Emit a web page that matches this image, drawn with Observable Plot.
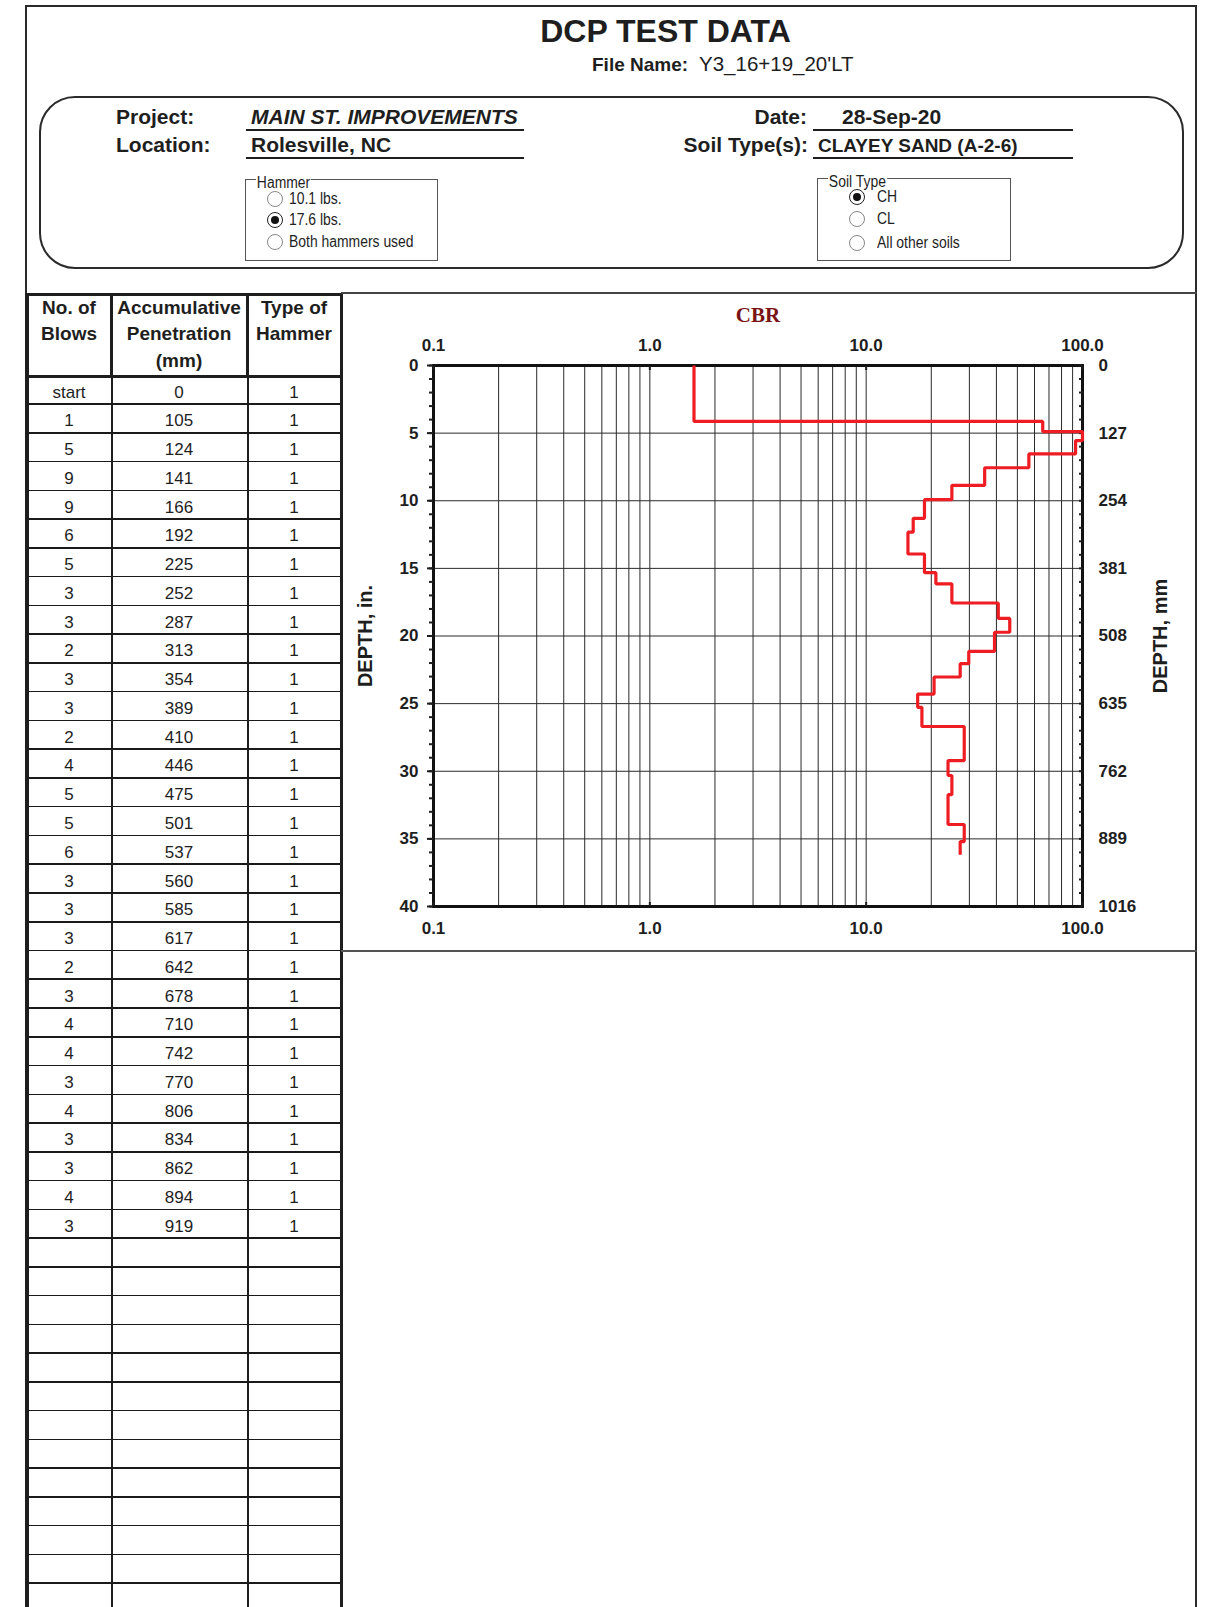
<!DOCTYPE html>
<html><head><meta charset="utf-8">
<script src="https://cdn.jsdelivr.net/npm/d3@7"></script>
<script src="https://cdn.jsdelivr.net/npm/@observablehq/plot@0.6"></script>
<style>
body{margin:0;background:#fff;}
#page{position:relative;width:1205px;height:1607px;overflow:hidden;background:#fff;font-family:"Liberation Sans",Arial,Helvetica,sans-serif;color:#1e1e1e;}
.a{position:absolute;white-space:nowrap;}
#chart{position:absolute;left:341px;top:292px;}
</style></head><body><div id="page"><div id="chart"></div></div>
<script>
// ---------- data ----------
const blows = ["start",1,5,9,9,6,5,3,3,2,3,3,2,4,5,5,6,3,3,3,2,3,4,4,3,4,3,3,4,3];
const penetrationMm = [0,105,124,141,166,192,225,252,287,313,354,389,410,446,475,501,537,560,585,617,642,678,710,742,770,806,834,862,894,919];
const hammerType = [1,1,1,1,1,1,1,1,1,1,1,1,1,1,1,1,1,1,1,1,1,1,1,1,1,1,1,1,1,1];
// CBR of each layer (between consecutive penetration readings)
const cbrValues = [1.6,65.5,100,92.9,56.5,35.3,24.9,18.6,16.5,15.6,18.6,21.0,24.9,40.8,46.1,39.2,29.8,27.2,20.6,17.3,18.1,28.4,28.4,23.9,24.9,23.9,23.9,28.4,27.2];
const xGridValues = [0.1,0.2,0.3,0.4,0.5,0.6,0.7,0.8,0.9,1,2,3,4,5,6,7,8,9,10,20,30,40,50,60,70,80,90,100];
const xTickValues = [0.1,1,10,100];
const xTickLabels = ["0.1","1.0","10.0","100.0"];
const depthMmTicks = [0,127,254,381,508,635,762,889,1016];
const depthInLabels = ["0","5","10","15","20","25","30","35","40"];
const depthMmLabels = ["0","127","254","381","508","635","762","889","1016"];
const inchMinorTicks = d3.range(41).map(i => i * 25.4);

const page = document.getElementById("page");
function box(x, y, w, h, style = {}) {
  const d = document.createElement("div"); d.className = "a";
  Object.assign(d.style, {left: x + "px", top: y + "px", width: w + "px", height: h + "px"}, style);
  page.appendChild(d); return d;
}
function line(x, y, w, h, color = "#1e1e1e") { return box(x, y, w, h, {background: color}); }
function text(str, x, base, fs, o = {}) {
  const d = document.createElement("div"); d.className = "a";
  d.textContent = str;
  d.style.left = x + "px"; d.style.top = (base - 0.847 * fs) + "px";
  d.style.fontSize = fs + "px"; d.style.lineHeight = fs + "px";
  if (o.weight) d.style.fontWeight = o.weight;
  if (o.italic) d.style.fontStyle = "italic";
  if (o.align === "right") d.style.transform = "translateX(-100%)";
  if (o.align === "center") d.style.transform = "translateX(-50%)";
  if (o.narrow) { d.style.transform = "scaleX(0.87)"; d.style.transformOrigin = "0 0"; }
  if (o.bg) { d.style.background = o.bg; d.style.padding = "0 1px"; }
  page.appendChild(d); return d;
}
function vtext(str, cx, cy, fs) {
  const d = document.createElement("div"); d.className = "a";
  d.textContent = str;
  Object.assign(d.style, {left: cx + "px", top: cy + "px", fontSize: fs + "px", lineHeight: fs + "px", fontWeight: "bold",
    transform: "translate(-50%,-50%) rotate(-90deg)"});
  page.appendChild(d); return d;
}

// ---------- outer frame ----------
box(24.5, 5, 1172, 1640, {border: "2px solid #2a2a2a", boxSizing: "border-box"});

// ---------- title ----------
text("DCP TEST DATA", 665.5, 42, 32, {weight: "bold", align: "center"});
text("File Name:", 592, 71, 19, {weight: "bold"});
text("Y3_16+19_20'LT", 699, 71, 20.5);

// ---------- info box ----------
box(39, 96, 1145, 173, {border: "2px solid #2a2a2a", borderRadius: "36px", boxSizing: "border-box"});
text("Project:", 116, 124, 21, {weight: "bold"});
text("Location:", 116, 152, 21, {weight: "bold"});
text("MAIN ST. IMPROVEMENTS", 251, 124, 21, {weight: "bold", italic: true});
text("Rolesville, NC", 251, 152, 21, {weight: "bold"});
line(246, 129, 278, 2); line(246, 157, 278, 2);
text("Date:", 807, 124, 21, {weight: "bold", align: "right"});
text("Soil Type(s):", 808, 152, 21, {weight: "bold", align: "right"});
text("28-Sep-20", 842, 124, 21, {weight: "bold"});
text("CLAYEY SAND (A-2-6)", 818, 152, 19, {weight: "bold"});
line(813, 129, 260, 2); line(813, 157, 260, 2);

function radio(cx, cy, on) {
  box(cx - 8, cy - 8, 16, 16, {border: on ? "1.5px solid #222" : "1px solid #888", borderRadius: "50%", boxSizing: "border-box", background: "#fff"});
  if (on) box(cx - 4, cy - 4, 8, 8, {borderRadius: "50%", background: "#111"});
}
// Hammer group
box(245, 179, 193, 82, {border: "1.5px solid #555", boxSizing: "border-box"});
text("Hammer", 256, 188.5, 16, {narrow: true, bg: "#fff"});
const hammerOpts = ["10.1 lbs.", "17.6 lbs.", "Both hammers used"];
[[199, 204.5], [220, 226], [242, 248]].forEach(([cy, b], i) => { radio(275, cy, i === 1); text(hammerOpts[i], 289, b, 16, {narrow: true}); });
// Soil type group
box(817, 178, 194, 83, {border: "1.5px solid #555", boxSizing: "border-box"});
text("Soil Type", 828, 187.5, 16, {narrow: true, bg: "#fff"});
const soilOpts = ["CH", "CL", "All other soils"];
[[197, 203], [219, 224.5], [243, 248.5]].forEach(([cy, b], i) => { radio(857, cy, i === 0); text(soilOpts[i], 877, b, 16, {narrow: true}); });

// ---------- table ----------
const rowTop0 = 375.3, rowH = 28.76;
line(25, 292.5, 318, 3.5);
line(25, 374.5, 318, 3);
line(25, 292.5, 4, 1330);
line(340, 292.5, 3, 1330);
line(110, 292.5, 3, 85); line(110.5, 377, 2, 1250);
line(246, 292.5, 3, 85); line(246.5, 377, 2, 1250);
for (let k = 1; k <= 43; k++) line(29, rowTop0 + rowH * k - 0.8, 311, 1.6, "#1a1a1a");
const colX = [69, 179, 294];
[["No. of", "Blows"], ["Accumulative", "Penetration", "(mm)"], ["Type of", "Hammer"]].forEach((lines, c) => {
  lines.forEach((s, j) => text(s, colX[c], 314 + 26.5 * j, 19, {weight: "bold", align: "center"}));
});
blows.forEach((b, k) => {
  const base = rowTop0 + rowH * (k + 0.5) + 8.3;
  text(String(b), colX[0], base, 17, {align: "center"});
  text(String(penetrationMm[k]), colX[1], base, 17, {align: "center"});
  text(String(hammerType[k]), colX[2], base, 17, {align: "center"});
});

// ---------- chart panel borders ----------
line(341, 291.5, 856, 2, "#444");
line(341, 950, 856, 2, "#555");

// ---------- chart ----------
const lineData = cbrValues.map((c, i) => ({cbr: c, depth: penetrationMm[i]}))
  .concat([{cbr: cbrValues[cbrValues.length - 1], depth: penetrationMm[penetrationMm.length - 1]}]);

const boldTxt = {fontSize: 17, fontWeight: "bold"};
const chart = Plot.plot({
  width: 856, height: 659,
  marginLeft: 92, marginRight: 115, marginTop: 73, marginBottom: 45,
  x: {type: "log", domain: [0.1, 100]},
  y: {domain: [0, 1016], reverse: true},
  style: {fontFamily: '"Liberation Sans", Arial, sans-serif', background: "transparent", color: "#1e1e1e", overflow: "visible"},
  marks: [
    Plot.ruleX(xGridValues, {stroke: "#2a2a2a", strokeWidth: 1}),
    Plot.ruleY(depthMmTicks, {stroke: "#2a2a2a", strokeWidth: 1}),
    Plot.frame({stroke: "#111", strokeWidth: 3}),
    Plot.axisY({anchor: "left", ticks: inchMinorTicks, tickSize: 4, tickFormat: () => "", strokeWidth: 2, label: null}),
    Plot.axisY({anchor: "left", ticks: depthMmTicks, tickSize: 6, tickPadding: 9, strokeWidth: 2, label: null,
      tickFormat: d => depthInLabels[depthMmTicks.indexOf(d)], ...boldTxt}),
    Plot.axisY({anchor: "right", ticks: inchMinorTicks, tickSize: 4, dx: -4, tickFormat: () => "", strokeWidth: 2, label: null}),
    Plot.axisY({anchor: "right", ticks: depthMmTicks, tickSize: 0, tickPadding: 16, label: null,
      tickFormat: d => depthMmLabels[depthMmTicks.indexOf(d)], ...boldTxt}),
    Plot.axisX({anchor: "top", ticks: xTickValues, tickSize: 4, dy: 4, tickFormat: () => "", strokeWidth: 2, label: null}),
    Plot.axisX({anchor: "bottom", ticks: xTickValues, tickSize: 4, dy: -4, tickFormat: () => "", strokeWidth: 2, label: null}),
    Plot.axisX({anchor: "top", ticks: xTickValues, tickSize: 0, tickPadding: 15, label: null,
      tickFormat: d => xTickLabels[xTickValues.indexOf(d)], ...boldTxt}),
    Plot.axisX({anchor: "bottom", ticks: xTickValues, tickSize: 0, tickPadding: 15, label: null,
      tickFormat: d => xTickLabels[xTickValues.indexOf(d)], ...boldTxt}),
    Plot.line(lineData, {x: "cbr", y: "depth", curve: "step-before", stroke: "#ee1d23", strokeWidth: 3.2,
      strokeLinejoin: "miter", strokeLinecap: "butt"}),
    Plot.text(["CBR"], {text: d => d, frameAnchor: "top", dy: -58, fontFamily: '"Liberation Serif", "Times New Roman", serif',
      fontWeight: "bold", fontSize: 21, fill: "#7a1414"})
  ]
});
document.getElementById("chart").appendChild(chart);

// axis titles (rotated), centred on the plot area
vtext("DEPTH, in.", 365, 636, 20);
vtext("DEPTH, mm", 1160, 636, 20);
</script>
</body></html>
